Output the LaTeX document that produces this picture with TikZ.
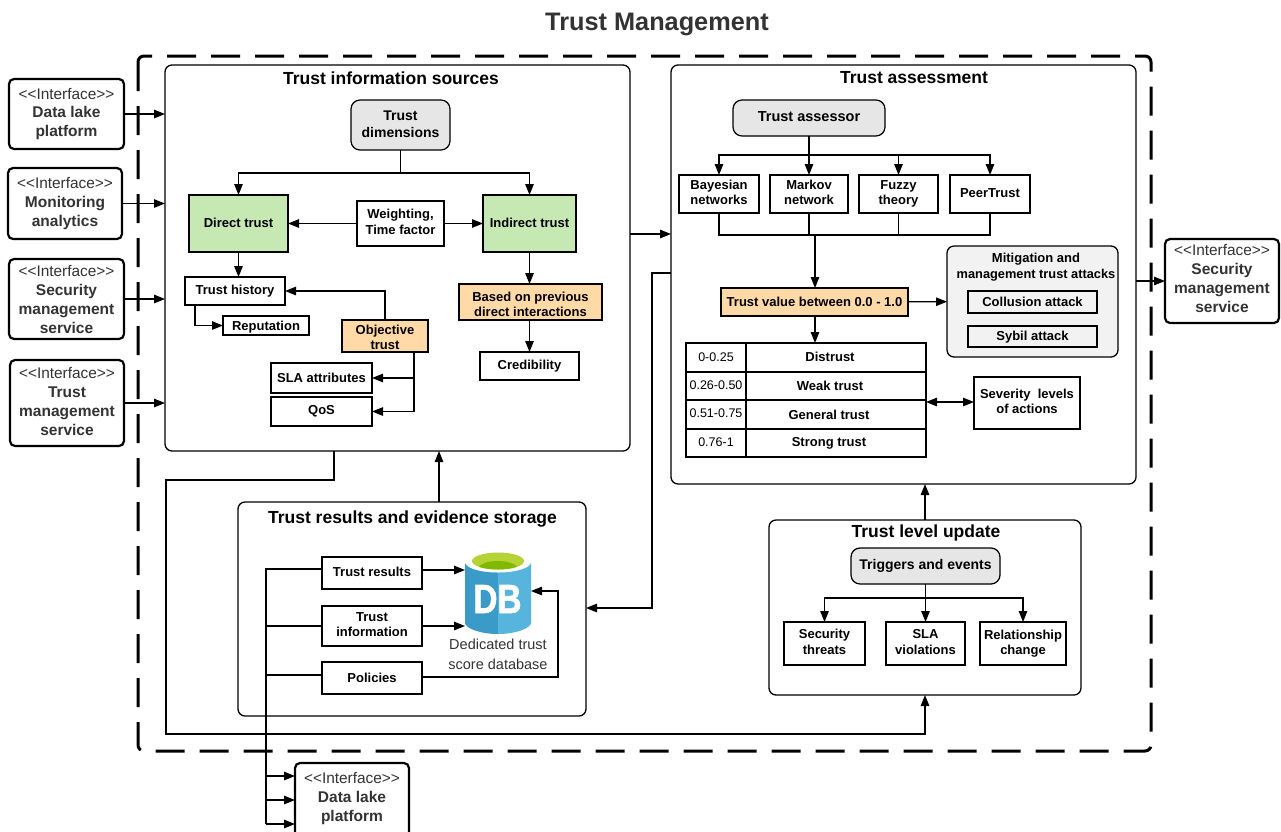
\documentclass[tikz,border=0pt]{standalone}
\usepackage{graphicx}
\usepackage{fontspec}
\setmainfont{Liberation Sans}
\usetikzlibrary{arrows.meta,calc}
\definecolor{gr}{HTML}{E6E6E6}
\definecolor{grn}{HTML}{C6E9B4}
\definecolor{org}{HTML}{FFD9A6}
\definecolor{mit}{HTML}{F2F2F2}
\definecolor{ink}{HTML}{333333}
\newcommand{\fz}[2]{\fontsize{#1}{#2}\selectfont}
\newcommand{\ifcname}{{\fz{15.4}{19}\mdseries\color{ink}<\kern0pt<Interface>\kern0pt>}}
\newcommand{\ifb}{\color{ink}}
\newcommand{\ur}[2]{\raisebox{#1}[\height][\depth]{\begin{tabular}{@{}c@{}}#2\end{tabular}}}
\newcommand{\us}[2]{\raisebox{#1}[\height][\depth]{#2}}
\newcommand{\bx}[7][]{\node[#6,minimum width={(#4-#2)*1pt},minimum height={(#5-#3)*1pt},#1] (#7) at ({(#2+#4)/2},{(#3+#5)/2})}
\tikzset{
  x=1pt,y=-1pt,
  base/.style={inner sep=0pt,outer sep=0pt,align=center,text=black,font=\fz{13}{15.5}\bfseries},
  box/.style={base,draw=black,line width=1.25pt},
  rbox/.style={box,rounded corners=5pt},
  grey/.style={rbox,rounded corners=9pt,fill=gr,font=\fz{14}{17}\bfseries},
  green/.style={box,fill=grn},
  orange/.style={box,fill=org},
  group/.style={base,draw=black,line width=1.3pt,rounded corners=7pt},
  iface/.style={base,draw=black,line width=2.2pt,rounded corners=5pt,font=\fz{15.5}{19}\bfseries},
  ttl/.style={base,font=\fz{17.5}{21}\bfseries},
  cell/.style={base,draw=black,line width=1.2pt,font=\fz{13}{15}\bfseries},
  numc/.style={cell,font=\fz{12.5}{15}},
  con/.style={line width=1.2pt,draw=black},
  arr/.style={con,-{Triangle[length=11pt,width=8.5pt]}},
  arrb/.style={con,{Triangle[length=11pt,width=8.5pt]}-{Triangle[length=11pt,width=8.5pt]}},
}
\begin{document}
\begin{tikzpicture}
\clip (0,0) rectangle (1281,831);
\fill[white] (0,0) rectangle (1281,831);
\node[base,font=\fz{25.3}{30}\bfseries,text=ink] (title) at (657,24) {Trust Management};
\draw[line width=3pt,dash pattern=on 29pt off 15pt,rounded corners=6pt] (138,56) rectangle (1151,751);

% interfaces
\bx{9}{79}{124}{149}{iface}{dl1} {\raisebox{-1pt}{\ifcname}\\\ifb Data lake\\\ifb platform};
\bx{8}{168}{122}{239}{iface}{mon} {\ifcname\\\ifb Monitoring\\\ifb analytics};
\bx{9}{259}{124}{339}{iface}{sec} {\ifcname\\\ifb Security\\\ifb management\\\ifb service};
\bx{10}{360}{124}{446}{iface}{tms} {};
\node[base,anchor=north,font=\fz{15.5}{19}\bfseries] (tmst) at (67,367.5) {\ifcname\\\ifb Trust\\\ifb management\\\ifb service};
\bx{1165}{239}{1279}{323}{iface}{sec2} {};
\node[base,anchor=north,font=\fz{15.5}{19}\bfseries] (sec2t) at (1222,244) {\ifcname\\\ifb Security\\\ifb management\\\ifb service};
\bx{295}{763}{409}{845}{iface}{dl2} {};
\node[base,anchor=north,font=\fz{15.5}{19}\bfseries] (dl2t) at (352,772) {\ifcname\\\ifb Data lake\\\ifb platform};

% groups
\bx{165}{65}{630}{451}{group}{tis} {};
\bx{671}{65}{1136}{484}{group}{tas} {};
\bx{238}{502}{586}{716}{group}{sto} {};
\bx{769}{520}{1081}{695}{group}{upd} {};
\node[ttl] (tist) at (391,78) {Trust information sources};
\node[ttl] (tast) at (914,78) {Trust assessment};
\node[ttl] (stot) at (412.5,519) {Trust results and evidence storage};
\node[ttl] (updt) at (926,533) {Trust level update};

% information sources
\bx{351}{100}{450}{150}{grey}{dim} {\ur{-1pt}{Trust\\dimensions}};
\bx{189}{195}{288}{252}{green}{dir} {\raisebox{2pt}{Direct trust}};
\bx{483}{195}{576}{252}{green}{ind} {\raisebox{2pt}{Indirect trust}};
\bx{357}{201}{444}{246}{box}{wei} {\ur{0pt}{Weighting,\\Time factor}};
\bx{185}{277}{285}{305}{box}{his} {Trust history};
\bx{223}{316}{309}{335}{box}{rep} {\us{-2pt}{Reputation}};
\bx{342}{320}{428}{352}{orange}{obj} {\ur{-3pt}{Objective\\trust}};
\bx{271}{363}{372}{393}{box}{sla} {SLA attributes};
\bx{271}{397}{372}{426}{box}{qos} {QoS};
\bx{459}{284}{602}{320}{orange}{bas} {\ur{-4pt}{Based on previous\\direct interactions}};
\bx{480}{352}{579}{380}{box}{cre} {Credibility};

% assessment
\bx{733}{100}{885}{136}{grey}{ass} {\fz{14.5}{17}\us{1pt}{Trust assessor}};
\bx{679}{175}{759}{213}{box}{bay} {\ur{0pt}{Bayesian\\networks}};
\bx{770}{175}{848}{213}{box}{mar} {\ur{0pt}{Markov\\network}};
\bx{859}{175}{938}{213}{box}{fuz} {Fuzzy\\theory};
\bx{950}{175}{1030}{213}{box}{pee} {\raisebox{1pt}{PeerTrust}};
\bx{721}{288}{908}{316}{orange}{val} {Trust value between 0.0 - 1.0};
\bx[fill=mit]{947}{246}{1118}{357}{group}{mig} {};
\node[base] (migt) at (1036,267) {Mitigation and\\\fz{12.8}{15.5}management trust attacks};
\bx{968}{291}{1097}{313}{box}{col} {Collusion attack};
\bx{968}{326}{1097}{347}{box}{syb} {\us{-1pt}{Sybil attack}};
\bx{686}{343}{746}{372}{numc}{n1} {\raisebox{1pt}{0-0.25}};
\bx{746}{343}{926}{372}{cell}{t1} {\raisebox{1pt}{\hspace*{-12pt}Distrust}};
\bx{686}{372}{746}{400}{numc}{n2} {\raisebox{2pt}{0.26-0.50}};
\bx{746}{372}{926}{400}{cell}{t2} {\raisebox{1pt}{\hspace*{-12pt}Weak trust}};
\bx{686}{400}{746}{429}{numc}{n3} {\raisebox{2pt}{0.51-0.75}};
\bx{746}{400}{926}{429}{cell}{t3} {\hspace*{-14pt}General trust};
\bx{686}{429}{746}{457}{numc}{n4} {\raisebox{1pt}{0.76-1}};
\bx{746}{429}{926}{457}{cell}{t4} {\hspace*{-14pt}Strong trust};
\bx{974}{377}{1080}{429}{box}{sev} {\ur{0pt}{Severity\ \ levels\\of actions}};

% update
\bx{851}{548}{1000}{584}{grey}{tri} {Triggers and events};
\bx{784}{622}{865}{665}{box}{thr} {\ur{0pt}{Security\\threats}};
\bx{886}{622}{965}{665}{box}{vio} {\ur{0pt}{SLA\\violations}};
\bx{980}{622}{1066}{665}{box}{rel} {Relationship\\change};

% storage
\bx{322}{557}{422}{589}{box}{res} {\raisebox{2pt}{Trust results}};
\bx{322}{606}{422}{646}{box}{inf} {\ur{0pt}{Trust\\information}};
\bx{322}{662}{422}{694}{box}{pol} {Policies};

% database
\fill[fill={rgb,255:red,58;green,155;blue,201}] (465,562) -- (465,623) .. controls (465,628) and (480,634) .. (498,634) -- (498,562) -- cycle;
\fill[fill={rgb,255:red,87;green,181;blue,221}] (531,562) -- (531,623) .. controls (531,628) and (516,634) .. (498,634) -- (498,562) -- cycle;
\fill[white] (498,562) ellipse [x radius=33,y radius=10.5];
\fill[fill={rgb,255:red,181;green,211;blue,52}] (498,561) ellipse [x radius=26,y radius=8.5];
\begin{scope}
\clip (498,561) ellipse [x radius=26,y radius=8.5];
\fill[fill={rgb,255:red,127;green,186;blue,0}] (498,569) ellipse [x radius=20,y radius=8];
\end{scope}
\node[base,minimum width=66pt,minimum height=82pt,text=white,font=\fz{37}{40}\bfseries] (db) at (497.5,599) {\addfontfeatures{FakeBold=1.5}\scalebox{0.9}[1.1]{DB}};
\node[base,font=\fz{14.5}{20},text=ink] (dbl) at (498,654) {Dedicated trust\\score database};

% connectors: interfaces
\draw[arr] (dl1.east) -- (dl1.east -| tis.west);
\draw[arr] (mon.east) -- (mon.east -| tis.west);
\draw[arr] (sec.east) -- (sec.east -| tis.west);
\draw[arr] (tms.east) -- (tms.east -| tis.west);
\coordinate (asec) at (1136,281);
\draw[arr] (asec) -- (asec -| sec2.west);

% information sources
\coordinate (jd) at (400.5,173);
\draw[con] (dim) -- (jd);
\draw[arr] (jd) -| (dir);
\draw[arr] (jd) -| (ind);
\draw[arr] (wei) -- (dir);
\draw[arr] (wei) -- (ind);
\draw[arr] (dir) -- (dir |- his.north);
\coordinate (hr) at (195,305);
\draw[arr] (hr) |- (rep.west);
\coordinate (ot) at (385,320);
\draw[arr] (ot) |- (his.east);
\coordinate (ob) at (414,352);
\draw[arr] (ob) |- (qos.east);
\coordinate (oj) at (414,378);
\draw[arr] (oj) -- (sla.east);
\draw[arr] (ind.south) -- (ind.south |- bas.north);
\draw[arr] (ind.south |- bas.south) -- (ind.south |- cre.north);
\coordinate (ts) at (630,234);
\draw[arr] (ts) -- (ts -| tas.west);

% assessment
\coordinate (ja) at (809,155);
\draw[con] (ass) -- (ja);
\draw[arr] (ja) -| (bay);
\draw[arr] (ja) -- (mar);
\draw[arr] (ja) -| (fuz);
\draw[arr] (ja) -| (pee);
\coordinate (jb) at (809,235);
\draw[con] (bay.south) |- (jb);
\draw[con] (mar.south) -- (jb);
\draw[con] (fuz.south) |- (jb);
\draw[con] (pee.south) |- (jb);
\coordinate (jv) at (815,235);
\draw[arr] (jv) -- (jv |- val.north);
\draw[arr] (val) -- (mig);
\coordinate (vb) at (815,316);
\draw[arr] (vb) -- (vb |- t1.north);
\coordinate (tr) at (926,402);
\draw[arrb] (tr) -- (tr -| sev.west);

% update
\coordinate (uu) at (925,520);
\draw[arr] (uu) -- (uu |- tas.south);
\coordinate (jt) at (925.5,598);
\draw[con] (tri) -- (jt);
\draw[arr] (jt) -| (thr);
\draw[arr] (jt) -- (vio);
\draw[arr] (jt) -| (rel);

% storage
\coordinate (st) at (439,502);
\draw[arr] (st) -- (st |- tis.south);
\coordinate (a1) at (334,451);
\coordinate (a2) at (166,480);
\coordinate (a3) at (166,734);
\draw[arr,rounded corners=0pt] (a1) |- (a2) -- (a3) -| (uu |- upd.south);
\coordinate (b1) at (671,273);
\coordinate (b2) at (652,608);
\draw[arr] (b1) -- (b1 -| b2) -- (b2) -- (b2 -| sto.east);
\coordinate (c1) at (266,569);
\coordinate (c4) at (266,824);
\draw[con] (c1 -| res.west) -- (c1) -- (c4);
\coordinate (c2) at (266,626);
\coordinate (c3) at (266,675);
\draw[con] (inf.west) -- (c2);
\draw[con] (c3) -- (c3 -| pol.west);
\coordinate (d1) at (266,776);
\coordinate (d2) at (266,800);
\draw[arr] (d1) -- (d1 -| dl2.west);
\draw[arr] (d2) -- (d2 -| dl2.west);
\draw[arr] (c4) -- (c4 -| dl2.west);
\coordinate (e1) at (465,570);
\draw[arr] (e1 -| res.east) -- (e1);
\coordinate (e2) at (465,626);
\draw[arr] (inf.east) -- (e2);
\coordinate (e3) at (558,677);
\coordinate (e4) at (531,591);
\draw[arr] (pol.east |- e3) -- (e3) -- (e3 |- e4) -- (e4);
\end{tikzpicture}
\end{document}
